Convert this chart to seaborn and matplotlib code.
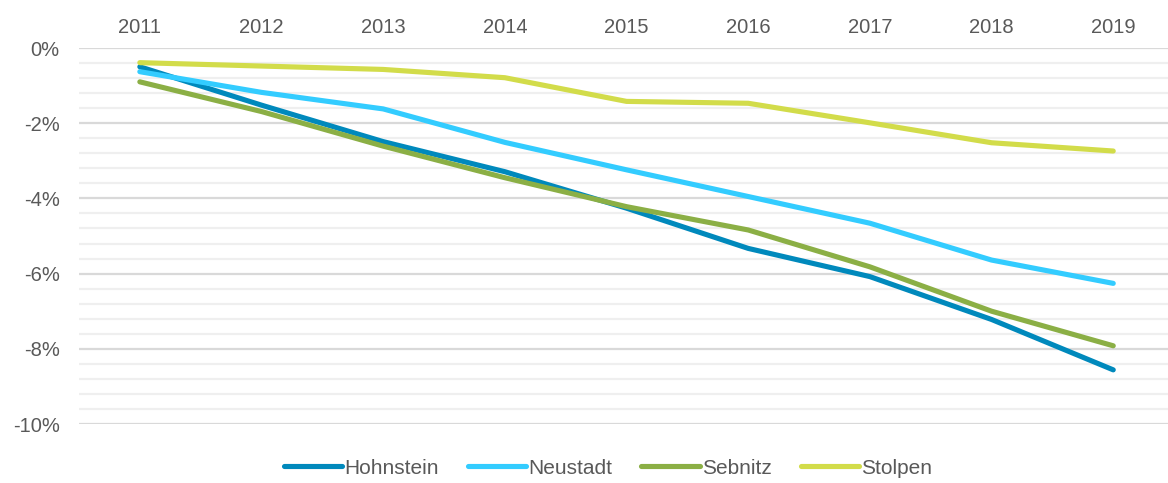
import matplotlib.pyplot as plt
import seaborn as sns
import pandas as pd
from matplotlib.ticker import MultipleLocator, FuncFormatter

years = ['2011', '2012', '2013', '2014', '2015', '2016', '2017', '2018', '2019']
hohnstein = [-0.50, -1.52, -2.49, -3.29, -4.26, -5.33, -6.08, -7.22, -8.56]
neustadt = [-0.63, -1.18, -1.62, -2.51, -3.24, -3.95, -4.66, -5.64, -6.26]
sebnitz = [-0.90, -1.69, -2.61, -3.45, -4.22, -4.84, -5.82, -7.00, -7.92]
stolpen = [-0.39, -0.48, -0.57, -0.79, -1.42, -1.47, -1.99, -2.52, -2.74]

series = {'Hohnstein': hohnstein, 'Neustadt': neustadt, 'Sebnitz': sebnitz, 'Stolpen': stolpen}
colors = {'Hohnstein': '#0089BC', 'Neustadt': '#33CCFF', 'Sebnitz': '#8BAF45', 'Stolpen': '#D2DC4A'}

rows = []
for name, vals in series.items():
    for y, v in zip(years, vals):
        rows.append({'Jahr': y, 'Wert': v, 'Gemeinde': name})
df = pd.DataFrame(rows)

sns.set_style('white')
plt.rcParams['font.family'] = ['Liberation Sans', 'DejaVu Sans']
plt.rcParams['axes.unicode_minus'] = False
text_color = '#595959'

fig = plt.figure(figsize=(11.68, 4.83), dpi=100)
ax = fig.add_axes([79 / 1168, 1 - 424 / 483, 1 - 79 / 1168, (424 - 48) / 483])

sns.lineplot(data=df, x='Jahr', y='Wert', hue='Gemeinde', palette=colors,
             linewidth=3.7, ax=ax, sort=False)
for line in ax.get_lines():
    line.set_solid_capstyle('round')
    line.set_solid_joinstyle('round')

ax.set_ylim(-10, 0)
ax.set_xlim(-0.5, 8.45)
ax.yaxis.set_major_locator(MultipleLocator(2))
ax.yaxis.set_minor_locator(MultipleLocator(0.4))
ax.yaxis.set_major_formatter(FuncFormatter(lambda v, p: f'{v:.0f}%'))
ax.grid(which='major', axis='y', color='#D9D9D9', linewidth=1.6)
ax.grid(which='minor', axis='y', color='#EFEFEF', linewidth=1.6)
ax.grid(axis='x', visible=False)
ax.set_axisbelow(True)

ax.xaxis.tick_top()
ax.tick_params(axis='x', which='both', length=0, pad=8, labelsize=14.5, colors=text_color)
ax.tick_params(axis='y', which='both', length=0, pad=14, labelsize=14.5, colors=text_color)
ax.set_xlabel('')
ax.set_ylabel('')
for s in ax.spines.values():
    s.set_visible(False)

handles, labels = ax.get_legend_handles_labels()
leg = ax.legend(handles, labels, loc='center', bbox_to_anchor=(608 / 1168, 1 - 468 / 483),
                bbox_transform=fig.transFigure, ncol=4, frameon=False, fontsize=15,
                handlelength=2.8, handletextpad=0.1, columnspacing=1.4)
for t in leg.get_texts():
    t.set_color(text_color)
for h in leg.get_lines():
    h.set_linewidth(3.7)
    h.set_solid_capstyle('round')

fig.savefig('out.png', dpi=100)
